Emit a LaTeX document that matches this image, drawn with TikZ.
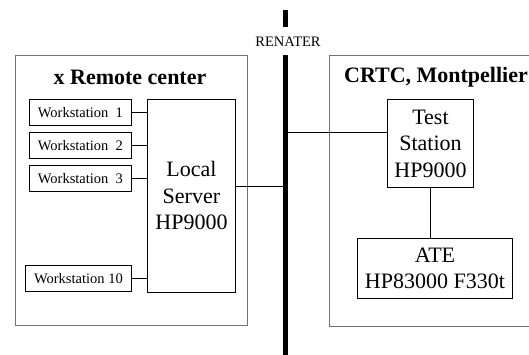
\documentclass[tikz,border=0pt]{standalone}
\usepackage{fontspec}
\setmainfont{Liberation Serif}
\begin{document}
\begin{tikzpicture}[x=1pt,y=-1pt,
  outerbox/.style={draw=black!55,line width=1pt,inner sep=0pt,anchor=north west},
  wsbox/.style={draw=black,line width=0.9pt,inner sep=0pt,anchor=north west,
    font=\fontsize{14.5}{17}\selectfont},
  bigbox/.style={draw=black,line width=0.9pt,inner sep=0pt,anchor=north west,align=center,
    font=\fontsize{22}{26.5}\selectfont},
  titletext/.style={font=\fontsize{22}{26}\selectfont\bfseries,inner sep=0pt},
  conn/.style={draw=black,line width=0.9pt},
  bus/.style={draw=black,line width=5pt}]
\useasboundingbox (0,0) rectangle (529,355);
\clip (0,0) rectangle (529,355);
% outer boxes
\node[outerbox,minimum width=232pt,minimum height=270pt] (left) at (15,55) {};
\node[outerbox,minimum width=220pt,minimum height=271pt] (right) at (329,55) {};
\node[titletext] (lt) at (130,77) {x Remote center};
\node[titletext] (rt) at (436,77) {CRTC, Montpellier};
% bus
\coordinate (b1) at (285.5,10);
\coordinate (b2) at (285.5,27);
\coordinate (b3) at (285.5,55);
\coordinate (b4) at (285.5,356);
\draw[bus] (b1) -- (b2);
\draw[bus] (b3) -- (b4);
\node[font=\fontsize{14.5}{17}\selectfont,inner sep=0pt] (ren) at (288,42) {RENATER};
% workstations
\node[wsbox,minimum width=102pt,minimum height=26pt] (ws1) at (29,99) {Workstation~ 1};
\node[wsbox,minimum width=102pt,minimum height=26pt] (ws2) at (29,132) {Workstation~ 2};
\node[wsbox,minimum width=102pt,minimum height=26pt] (ws3) at (29,165) {Workstation~ 3};
\node[wsbox,minimum width=106pt,minimum height=26pt] (ws10) at (25,265) {Workstation 10};
% server
\node[bigbox,minimum width=88pt,minimum height=193pt] (server) at (147,99) {Local\\Server\\HP9000};
% test station and ATE
\node[bigbox,minimum width=86pt,minimum height=88pt] (test) at (387,99) {Test\\Station\\HP9000};
\node[bigbox,minimum width=155pt,minimum height=60pt] (ate) at (357,238) {ATE\\HP83000 F330t};
% connectors
\draw[conn] (ws1.east) -- (ws1.east -| server.west);
\draw[conn] (ws2.east) -- (ws2.east -| server.west);
\draw[conn] (ws3.east) -- (ws3.east -| server.west);
\draw[conn] (ws10.east) -- (ws10.east -| server.west);
\draw[conn] ([yshift=9.5pt]server.east) -- ([yshift=9.5pt]server.east -| b3);
\draw[conn] ([yshift=11pt]test.west) -- ([yshift=11pt]test.west -| b3);
\draw[conn] (test.south) -- (test.south |- ate.north);
\end{tikzpicture}
\end{document}
